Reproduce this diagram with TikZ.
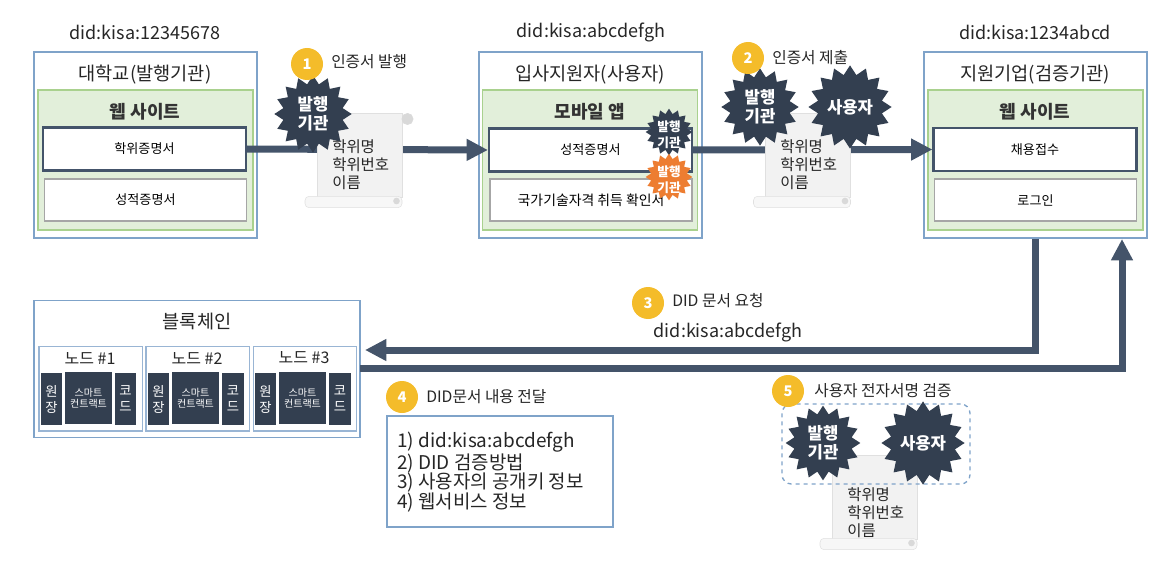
\documentclass[tikz,border=0pt]{standalone}
\usepackage{fontspec}
\setmainfont{Noto Sans CJK KR}
\usepackage{tikz}
\usetikzlibrary{arrows.meta}
\usetikzlibrary{positioning}
\usetikzlibrary{shapes.geometric}

\definecolor{slate}{HTML}{44546A}
\definecolor{darkstar}{HTML}{333F50}
\definecolor{framecol}{HTML}{7FA3C9}
\definecolor{greenfill}{HTML}{E2EFDA}
\definecolor{greenline}{HTML}{A9D18E}
\definecolor{badgecol}{HTML}{F4BC2A}
\definecolor{orangestar}{HTML}{ED7D31}

\newcommand{\scrolldoc}[3]{
    \node[scrollbody] (#1) at (#2,#3) {};
    \node[scrollroll] (#1roll) at (#2-6,#3+47) {};
    \node[scrollcurl] (#1curl) at (#2+48,#3-36) {};
    \node[scrollend] (#1end) at (#2+37,#3+46) {};
}

\begin{document}
\begin{tikzpicture}[
        x = 0.75pt,
        y = -0.75pt,
        outerbox/.style = {
                draw = framecol,
                line width = 1pt,
                fill = white,
                minimum width = 167.25pt,
                minimum height = 139.5pt
            },
        greenbox/.style = {
                draw = greenline,
                line width = 1pt,
                fill = greenfill,
                minimum width = 161.25pt,
                minimum height = 105pt
            },
        activebox/.style = {
                draw = slate,
                line width = 1.6pt,
                fill = white,
                font = \fontsize{9.8}{12}\selectfont,
                minimum width = 152.25pt,
                minimum height = 32.25pt
            },
        plainbox/.style = {
                draw = black!35,
                line width = 1.2pt,
                fill = white,
                font = \fontsize{9.8}{12}\selectfont,
                minimum width = 151.5pt,
                minimum height = 31.5pt
            },
        didlabel/.style = {font = \fontsize{13.5}{15}\selectfont, text = black!85},
        boxtitle/.style = {font = \fontsize{14}{16}\selectfont, text = black!85},
        sitetitle/.style = {font = \bfseries\fontsize{13.5}{16}\selectfont, text = black!80},
        badge/.style = {
                circle,
                fill = badgecol,
                text = white,
                font = \bfseries\fontsize{11}{13}\selectfont,
                minimum size = 24pt,
                inner sep = 0pt
            },
        steplabel/.style = {anchor = west, inner sep = 0pt, font = \fontsize{11.8}{14}\selectfont, text = black!85},
        scrollbody/.style = {draw = black!12, fill = black!5, minimum width = 63.75pt, minimum height = 63pt, inner sep = 0pt},
        scrollroll/.style = {draw = black!12, fill = black!3, rounded corners = 3pt, minimum width = 72.75pt, minimum height = 8.5pt, inner sep = 0pt},
        scrollcurl/.style = {circle, draw = black!15, fill = black!15, minimum size = 8.5pt, inner sep = 0pt},
        scrollend/.style = {circle, fill = black!15, minimum size = 5pt, inner sep = 0pt},
        doctext/.style = {anchor = west, align = left, inner sep = 0pt, font = \fontsize{11.6}{13.5}\selectfont, text = black!85},
        stardark/.style = {
                star,
                star points = 16,
                star point ratio = 1.28,
                fill = darkstar,
                text = white,
                align = center,
                inner sep = 0pt,
                font = \bfseries\fontsize{12.5}{14}\selectfont,
                minimum size = #1
            },
        stardark/.default = 58pt,
        smalltext/.style = {text = white, align = center, inner sep = 0pt, font = \bfseries\fontsize{9.5}{12}\selectfont},
        flow/.style = {
                draw = slate,
                line width = 5.25pt,
                -{Triangle[length = 16pt, width = 15.5pt]}
            },
        chainnode/.style = {
                draw = framecol!80,
                line width = 1pt,
                fill = white,
                minimum width = 77.5pt,
                minimum height = 63.5pt
            },
        nodetitle/.style = {font = \fontsize{12}{14}\selectfont, text = black!85},
        cell/.style = {
                fill = darkstar,
                text = white,
                align = center,
                inner sep = 0pt,
                font = \fontsize{10}{12}\selectfont,
                minimum height = 39pt
            },
        cellwide/.style = {cell, minimum width = 35.25pt, font = \fontsize{7.5}{8.5}\selectfont},
        cellnarrow/.style = {cell, minimum width = 16pt}
    ]
    \useasboundingbox (0,0) rectangle (1170,574);

    % issuer
    \node[outerbox] (issuer) at (145.5,145) {};
    \node[didlabel] (issuerdid) at (145,32) {did:kisa:12345678};
    \node[boxtitle] (issuertitle) at (145,75) {대학교(발행기관)};
    \node[greenbox] (issuersite) at (145.5,160) {};
    \node[sitetitle] (issuersitetitle) at (145,112) {웹 사이트};
    \node[activebox] (degree) at (144.5,149) {학위증명서};
    \node[plainbox] (grades) at (145.5,200) {성적증명서};

    % user
    \node[outerbox] (user) at (590.5,145) {};
    \node[didlabel] (userdid) at (591,32) {did:kisa:abcdefgh};
    \node[boxtitle] (usertitle) at (590,75) {입사지원자(사용자)};
    \node[greenbox] (userapp) at (590,160) {};
    \node[sitetitle] (userapptitle) at (590,112) {모바일 앱};
    \node[activebox] (usergrades) at (590.5,150) {성적증명서};
    \node[plainbox, font = \fontsize{10.4}{12}\selectfont] (license) at (591,200) {국가기술자격 취득 확인서};

    % verifier
    \node[outerbox] (corp) at (1035.5,145) {};
    \node[didlabel] (corpdid) at (1035,32) {did:kisa:1234abcd};
    \node[boxtitle] (corptitle) at (1035,75) {지원기업(검증기관)};
    \node[greenbox] (corpsite) at (1035.5,160) {};
    \node[sitetitle] (corpsitetitle) at (1035,112) {웹 사이트};
    \node[activebox] (apply) at (1035,149.5) {채용접수};
    \node[plainbox] (login) at (1035.5,200) {로그인};

    % blockchain
    \node[outerbox, minimum width = 244.5pt, minimum height = 102.5pt] (chain) at (197,369) {};
    \node[boxtitle] (chaintitle) at (197,322) {블록체인};

    \node[chainnode] (n1) at (90.5,388.5) {};
    \node[nodetitle] (n1title) at (90,358) {노드 \#1};
    \node[cellnarrow] (n1a) at (51.5,399) {원\\장};
    \node[cellwide] (n1b) at (88.5,398) {스마트\\컨트랙트};
    \node[cellnarrow] (n1c) at (125.5,399) {코\\드};

    \node[chainnode] (n2) at (197.5,388.5) {};
    \node[nodetitle] (n2title) at (197,358) {노드 \#2};
    \node[cellnarrow] (n2a) at (158.5,399) {원\\장};
    \node[cellwide] (n2b) at (195.5,398) {스마트\\컨트랙트};
    \node[cellnarrow] (n2c) at (233,399) {코\\드};

    \node[chainnode] (n3) at (305,388.5) {};
    \node[nodetitle] (n3title) at (304,358) {노드 \#3};
    \node[cellnarrow] (n3a) at (265.5,399) {원\\장};
    \node[cellwide] (n3b) at (302.5,398) {스마트\\컨트랙트};
    \node[cellnarrow] (n3c) at (340,399) {코\\드};

    \coordinate (reqend) at (365,350);
    \coordinate (respstart) at (360,368);
    \coordinate (respend) at (1122,239);

    % flows
    \draw[flow] (degree.east) -- (usergrades.west);
    \draw[flow] (usergrades.east) -- (apply.west);
    \draw[flow] (corp.south) |- (reqend);
    \draw[flow] (respstart) -| (respend);

    % step 1
    \scrolldoc{doca}{359.5}{155}
    \node[doctext] (docatext) at (332,165) {학위명\\학위번호\\이름};
    \node[stardark] (stara) at (313,114) {발행\\기관};
    \node[badge] (stepa) at (307,64) {1};
    \node[steplabel] (stepalabel) at (331,62) {인증서 발행};

    % stars on the user's certificate
    \node[stardark=35pt] (starb) at (669,132) {};
    \node[smalltext] (starbtext) at (669,135) {발행\\기관};
    \node[stardark=35pt, fill = orangestar] (starc) at (669,177) {};
    \node[smalltext] (starctext) at (669,180) {발행\\기관};

    % step 2
    \scrolldoc{docb}{808}{155}
    \node[doctext] (docbtext) at (780,165) {학위명\\학위번호\\이름};
    \node[stardark] (stard) at (760,107) {발행\\기관};
    \node[stardark=54pt] (stare) at (850,107) {사용자};
    \node[badge] (stepb) at (748,58) {2};
    \node[steplabel] (stepblabel) at (772,58) {인증서 제출};

    % step 3
    \node[badge] (stepc) at (648,303) {3};
    \node[steplabel] (stepclabel) at (672,301) {DID 문서 요청};
    \node[didlabel] (reqdid) at (728,332) {did:kisa:abcdefgh};

    % step 4
    \node[badge] (stepd) at (402,397) {4};
    \node[steplabel] (stepdlabel) at (426,397) {DID문서 내용 전달};
    \node[draw = framecol, line width = 1pt, minimum width = 169.5pt, minimum height = 83.25pt] (didbox) at (500,471.5) {};
    \node[anchor = west, align = left, inner sep = 0pt, font = \fontsize{14.2}{14.6}\selectfont, text = black!85] (didboxtext) at (397,472) {1) did:kisa:abcdefgh\\2) DID 검증방법\\3) 사용자의 공개키 정보\\4) 웹서비스 정보};

    % step 5
    \scrolldoc{docc}{874.5}{497}
    \node[doctext] (docctext) at (847,513) {학위명\\학위번호\\이름};
    \node[draw = framecol, line width = 1pt, dashed, rounded corners = 7pt, minimum width = 141pt, minimum height = 60pt] (signbox) at (876,444) {};
    \node[stardark=56pt] (starf) at (823,443) {발행\\기관};
    \node[stardark=56pt] (starg) at (923,443) {사용자};
    \node[badge] (stepe) at (788,391) {5};
    \node[steplabel] (stepelabel) at (814,391) {사용자 전자서명 검증};
\end{tikzpicture}
\end{document}
